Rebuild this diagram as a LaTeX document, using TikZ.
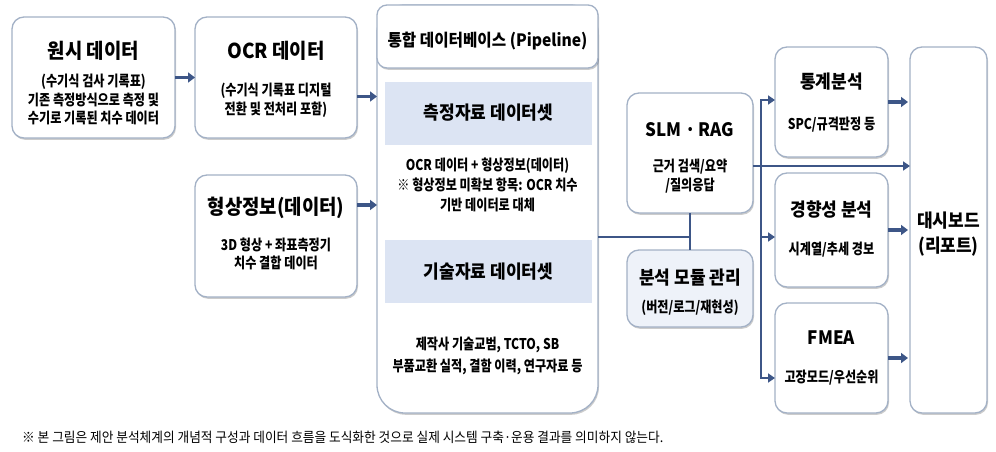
\documentclass[tikz,border=0pt]{standalone}
\usepackage{fontspec}
\newfontfamily\krt{Noto Sans CJK KR}[FakeStretch=0.92]
\newfontfamily\krb{Noto Sans CJK KR}[FakeStretch=0.82]
\usetikzlibrary{arrows.meta,shadows}
\definecolor{bd}{HTML}{A3B1C6}
\definecolor{ar}{HTML}{3D5687}
\definecolor{bandc}{HTML}{DCE4F3}
\definecolor{modf}{HTML}{EEF2F9}
\newcommand{\mdot}{\kern0.18em·\kern0.18em}
\begin{document}
\begin{tikzpicture}[x=1pt,y=-1pt,
  box/.style={draw=bd, line width=1.3pt, fill=white, rounded corners=12pt, inner sep=0pt, outer sep=0pt,
    drop shadow={shadow xshift=1pt, shadow yshift=-1.8pt, fill=black, opacity=0.2}},
  bandbox/.style={fill=bandc, draw=none, inner sep=0pt, outer sep=0pt},
  ttl/.style={font=\krt\bfseries\fontsize{20.5}{24}\selectfont, inner sep=0pt},
  ttm/.style={font=\krt\bfseries\fontsize{18.5}{22}\selectfont, inner sep=0pt},
  bod/.style={font=\krb\bfseries\fontsize{14.8}{18.5}\selectfont, inner sep=0pt, align=center},
  ln/.style={draw=ar, line width=2.8pt},
  arr/.style={ln, -{Triangle[length=7pt,width=9pt]}},
  sarr/.style={draw=ar, line width=3.6pt, -{Triangle[length=7pt,width=10pt]}}
]
\useasboundingbox (0,0) rectangle (996,452);
\fill[white] (0,0) rectangle (996,452);

% boxes
\node[box, minimum width=163pt, minimum height=121pt] (raw) at (93.5,77.5) {};
\node[box, minimum width=162pt, minimum height=121pt] (ocr) at (276,77.5) {};
\node[box, minimum width=162pt, minimum height=122pt] (shape) at (276,236) {};
\node[box, rounded corners=28pt, minimum width=221pt, minimum height=408pt] (db) at (487.5,209) {};
\node[box, rounded corners=10pt, minimum width=221pt, minimum height=63pt] (hdr) at (487.5,36.5) {};
\node[bandbox, minimum width=207pt, minimum height=63pt] (band1) at (488.5,113.5) {};
\node[bandbox, minimum width=207pt, minimum height=63pt] (band2) at (488.5,271.5) {};
\node[box, minimum width=126pt, minimum height=120pt] (slm) at (690,153) {};
\node[box, fill=modf, minimum width=126pt, minimum height=77pt] (mod) at (690,288.5) {};
\node[box, minimum width=113pt, minimum height=110pt] (stat) at (831.5,102) {};
\node[box, minimum width=113pt, minimum height=114pt] (trend) at (831.5,230) {};
\node[box, minimum width=113pt, minimum height=110pt] (fmea) at (831.5,358) {};
\node[box, minimum width=77pt, minimum height=366pt] (dash) at (948.5,230) {};

% texts
\node[ttl] (rawT) at (93.5,51) {원시 데이터};
\node[bod] (rawB) at (93.5,99.5) {(수기식 검사 기록표)\\기존 측정방식으로 측정 및\\수기로 기록된 치수 데이터};
\node[ttl] (ocrT) at (276,51) {OCR 데이터};
\node[bod] (ocrB) at (276,100.5) {(수기식 기록표 디지털\\전환 및 전처리 포함)};
\node[ttl] (shpT) at (276,208) {형상정보(데이터)};
\node[bod] (shpB) at (276,254) {3D 형상 + 좌표측정기\\치수 결합 데이터};
\node[ttm, font=\krt\bfseries\fontsize{17}{20}\selectfont] (hdrT) at (487.5,41) {통합 데이터베이스 (Pipeline)};
\node[ttm] (b1T) at (488.5,113) {측정자료 데이터셋};
\node[bod, font=\krb\bfseries\fontsize{14.8}{20}\selectfont] (b1B) at (487.5,185) {OCR 데이터 + 형상정보(데이터)\\※ 형상정보 미확보 항목: OCR 치수\\기반 데이터로 대체};
\node[ttm] (b2T) at (488.5,272) {기술자료 데이터셋};
\node[bod, font=\krb\bfseries\fontsize{14.8}{22}\selectfont] (b2B) at (487.5,356) {제작사 기술교범, TCTO, SB\\부품교환 실적, 결함 이력, 연구자료 등};
\node[ttm] (slmT) at (690,130) {SLM\mdot RAG};
\node[bod] (slmB) at (690,176) {근거 검색/요약\\/질의응답};
\node[ttm] (modT) at (690,278) {분석 모듈 관리};
\node[bod] (modB) at (690,308) {(버전/로그/재현성)};
\node[ttm] (statT) at (831.5,82) {통계분석};
\node[bod] (statB) at (831.5,125) {SPC/규격판정 등};
\node[ttm] (trT) at (831.5,210) {경향성 분석};
\node[bod] (trB) at (831.5,250) {시계열/추세 경보};
\node[ttm] (fmT) at (831.5,338) {FMEA};
\node[bod] (fmB) at (831.5,378) {고장모드/우선순위};
\node[ttm, align=center, font=\krt\bfseries\fontsize{18.5}{25}\selectfont] (dashT) at (948.5,234.5) {대시보드\\(리포트)};
\node[font=\krt\fontsize{13.8}{16}\selectfont, anchor=west, inner sep=0pt] (note) at (22,437) {※ 본 그림은 제안 분석체계의 개념적 구성과 데이터 흐름을 도식화한 것으로 실제 시스템 구축·운용 결과를 의미하지 않는다.};

% connectors
\coordinate (o1) at ([yshift=-19pt]ocr.east);
\coordinate (s1) at ([yshift=31pt]shape.east);
\coordinate (j) at (690,237);
\coordinate (h) at (761,166);
\coordinate (t1) at (761,100);
\coordinate (t2) at (761,237);
\coordinate (t3) at (761,378);

\draw[sarr] (raw.east) -- (ocr.west);
\draw[sarr] (o1) -- (o1 -| db.west);
\draw[sarr] (s1) -- (s1 -| db.west);
\draw[ln] (db.east |- j) -- (j);
\draw[ln] (slm.south) -- (mod.north);
\draw[arr] (t2) -- (t1) -- (t1 -| stat.west);
\draw[arr] (t2) -- (t3) -- (t3 -| fmea.west);
\draw[arr] (t2) -- (t2 -| trend.west);
\draw[arr] (slm.east |- h) -- (h -| dash.west);
\draw[sarr, shorten >=2pt] (stat.east) -- (stat.east -| dash.west);
\draw[sarr, shorten >=2pt] (trend.east) -- (trend.east -| dash.west);
\draw[sarr, shorten >=2pt] (fmea.east) -- (fmea.east -| dash.west);
\end{tikzpicture}
\end{document}
